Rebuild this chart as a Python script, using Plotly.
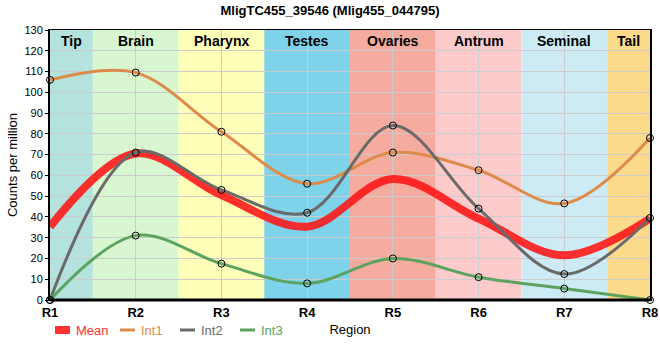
import plotly.graph_objects as go

regions = ["R1", "R2", "R3", "R4", "R5", "R6", "R7", "R8"]
int1 = [106, 109.5, 81, 56, 71, 62.5, 46.5, 78]
int2 = [0, 71, 53, 42, 84, 44, 12.5, 39.5]
int3 = [0, 31, 17.5, 8, 20, 11, 5.5, 0]
mean = [35.3, 70.5, 50.5, 35.3, 58.3, 39.2, 21.5, 39.2]

band_names = ["Tip", "Brain", "Pharynx", "Testes", "Ovaries", "Antrum", "Seminal", "Tail"]
band_colors = ["#b3e3dc", "#d8f6d0", "#ffffb9", "#7ed3ea", "#f5ac9f", "#fdcbcb", "#cdebf4", "#fcda8c"]

FONT = "Liberation Sans, Arial, sans-serif"
xs = list(range(len(regions)))

MEAN_COLOR = "rgba(255,20,20,0.88)"
series = [("Int1", int1, "#dd8b4a"), ("Int2", int2, "#6a6a6a"), ("Int3", int3, "#5ba35e")]

fig = go.Figure()

fig.add_trace(go.Scatter(
    x=xs, y=mean, mode="lines", name="Mean",
    line=dict(color=MEAN_COLOR, width=8, shape="spline", smoothing=1.0),
    hoverinfo="skip"))
for name, vals, col in series:
    fig.add_trace(go.Scatter(
        x=xs, y=vals, mode="lines", name=name,
        line=dict(color=col, width=3, shape="spline", smoothing=1.0),
        hoverinfo="skip"))
for name, vals, col in series:
    fig.add_trace(go.Scatter(
        x=xs, y=vals, mode="markers", showlegend=False,
        marker=dict(size=7, color="rgba(0,0,0,0)", line=dict(color="black", width=1)),
        hoverinfo="skip", cliponaxis=False))

shapes = []
for i, (bn, bc) in enumerate(zip(band_names, band_colors)):
    x0 = max(0, i - 0.5)
    x1 = min(len(regions) - 1, i + 0.5)
    shapes.append(dict(type="rect", xref="x", yref="paper", x0=x0, x1=x1, y0=0, y1=1,
                       fillcolor=bc, line=dict(width=0), layer="below"))
shapes.append(dict(type="line", xref="paper", yref="paper", x0=0, x1=1, y0=0, y1=0,
                   line=dict(color="black", width=3), layer="above"))

annotations = []
for i, bn in enumerate(band_names):
    x0 = max(0, i - 0.5)
    x1 = min(len(regions) - 1, i + 0.5)
    annotations.append(dict(x=(x0 + x1) / 2, y=1, xref="x", yref="paper", yanchor="top",
                            yshift=-1, text=f"<b>{bn}</b>", showarrow=False,
                            font=dict(family=FONT, size=14, color="black")))

# custom legend (pixel layout converted to paper coordinates)
PW, PH, ML, MB_TOP = 600.0, 270.0, 50.0, 300.0
def px(xp):
    return (xp - ML) / PW
def py(yp):
    return (MB_TOP - yp) / PH

legend_items = [("Mean", "#ff3030", MEAN_COLOR, 8, 55), ("Int1", "#dd8b4a", "#dd8b4a", 3, 120),
                ("Int2", "#6a6a6a", "#6a6a6a", 3, 180), ("Int3", "#5ba35e", "#5ba35e", 3, 240)]
for label, tcol, lcol, lw, x_left in legend_items:
    shapes.append(dict(type="line", xref="paper", yref="paper",
                       x0=px(x_left), x1=px(x_left + 15), y0=py(330), y1=py(330),
                       line=dict(color=lcol, width=lw)))
    annotations.append(dict(x=px(x_left + 19), y=py(330), xref="paper", yref="paper",
                            xanchor="left", yanchor="middle", text=label, showarrow=False,
                            font=dict(family=FONT, size=13, color=tcol)))

fig.update_layout(
    width=660, height=360,
    margin=dict(l=50, r=10, t=30, b=60),
    paper_bgcolor="white", plot_bgcolor="white",
    title=dict(text="<b>MligTC455_39546 (Mlig455_044795)</b>", x=0.5, xanchor="center",
               y=0.985, yanchor="top", font=dict(family=FONT, size=13, color="black")),
    font=dict(family=FONT, size=12, color="black"),
    shapes=shapes, annotations=annotations,
    showlegend=False,
    xaxis=dict(range=[0, 7], tickmode="array", tickvals=xs,
               ticktext=[f"<b>{r}</b>" for r in regions],
               tickfont=dict(family=FONT, size=13, color="black"),
               showgrid=True, gridcolor="#cccccc", gridwidth=1,
               showline=True, linecolor="black", linewidth=1, mirror=True,
               ticks="", zeroline=False, automargin=False,
               title=dict(text="Region", font=dict(family=FONT, size=13, color="black"), standoff=6)),
    yaxis=dict(range=[0, 130], dtick=10, tick0=0,
               tickfont=dict(family=FONT, size=11, color="black"),
               showgrid=True, gridcolor="#cccccc", gridwidth=1,
               showline=True, linecolor="black", linewidth=2, mirror=True,
               ticks="outside", ticklen=3, tickcolor="black", tickwidth=1,
               zeroline=False, automargin=False,
               title=dict(text="Counts per million", font=dict(family=FONT, size=13, color="black"), standoff=4)),
)

fig.write_html("out.html", config={"displayModeBar": False},
               post_script="document.body.style.margin='0';")
